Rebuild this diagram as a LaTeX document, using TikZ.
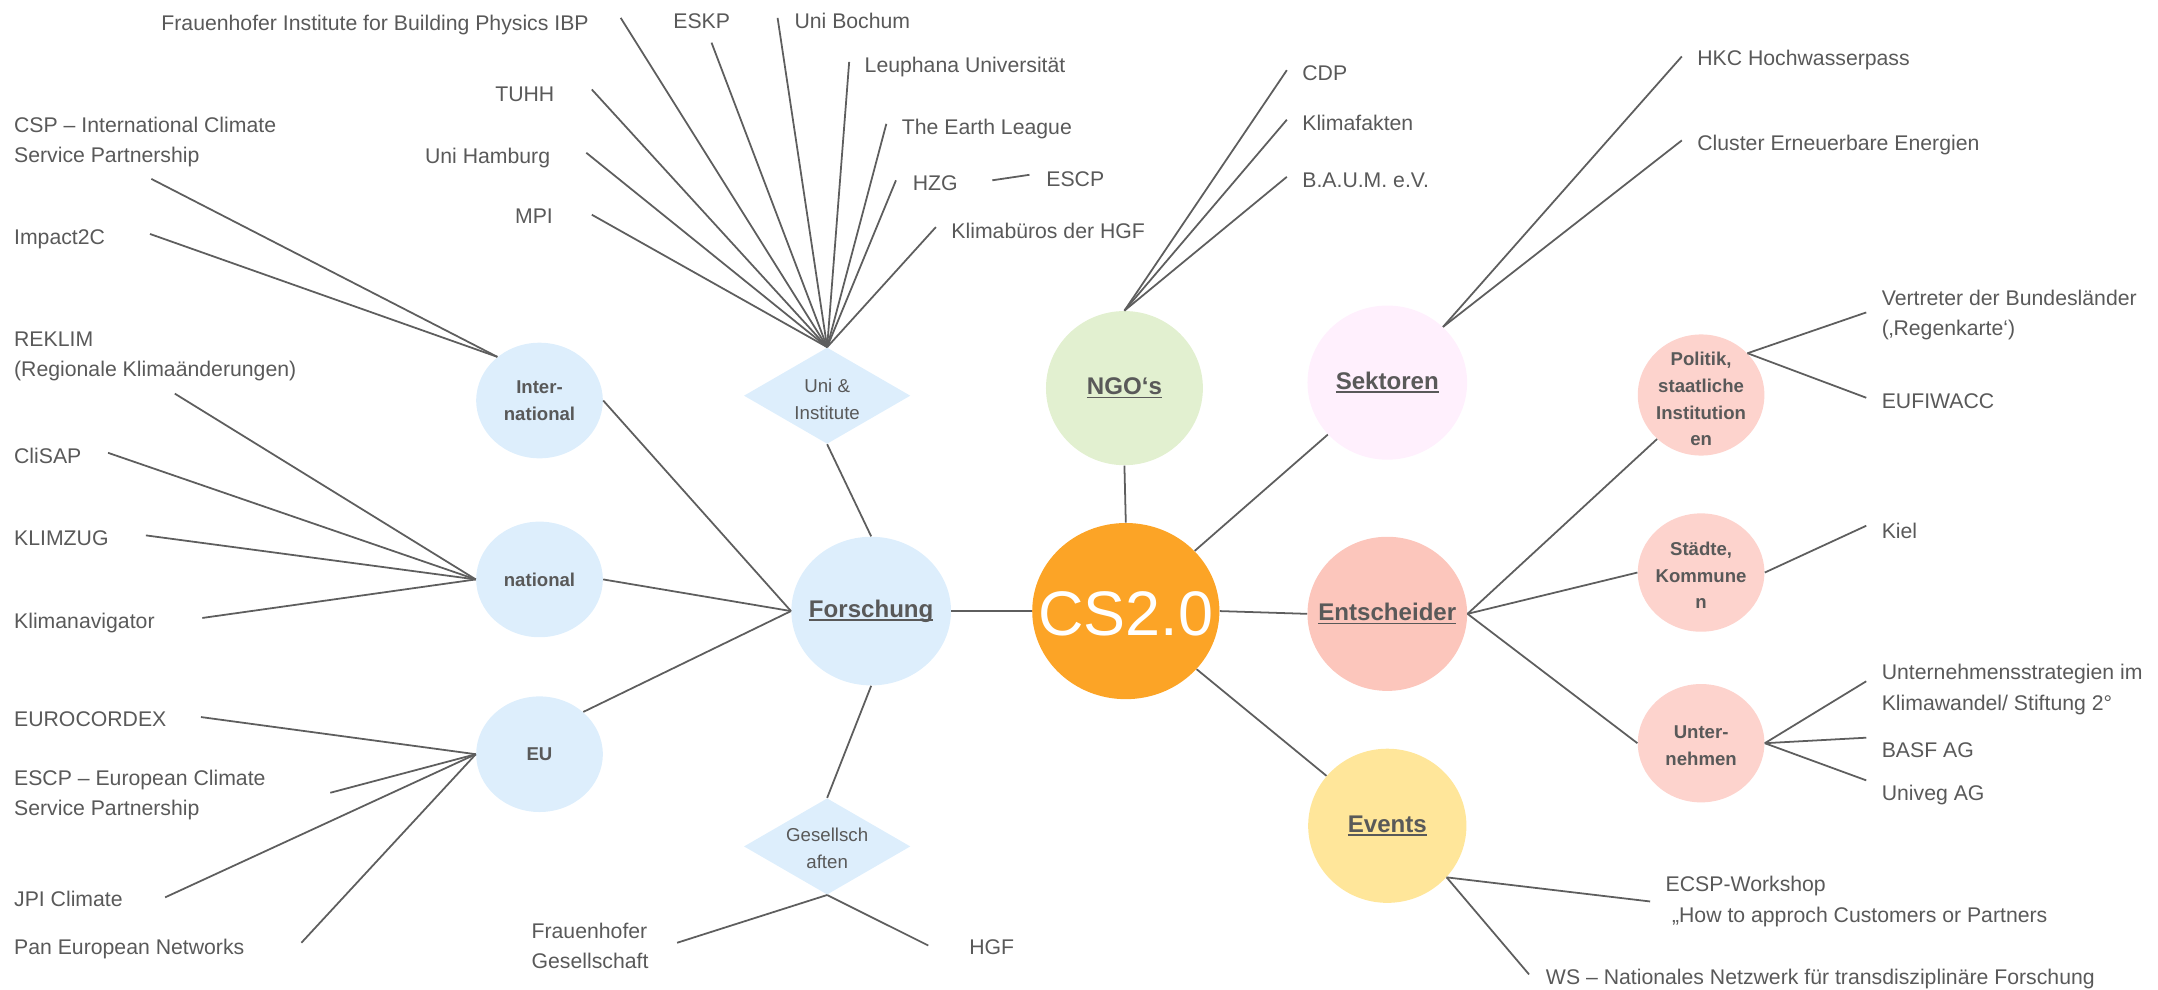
\documentclass[tikz,border=0pt]{standalone}
\usepackage{fontspec}
\setmainfont{Liberation Sans}
\usetikzlibrary{shapes.geometric}
\definecolor{ink}{HTML}{595959}
\definecolor{lineg}{HTML}{5E5E5E}
\definecolor{bluef}{HTML}{DDEEFC}
\definecolor{greenf}{HTML}{E2F0D0}
\definecolor{pinkf}{HTML}{FFF0FD}
\definecolor{salmonf}{HTML}{FCC6BC}
\definecolor{salmonl}{HTML}{FDD3CD}
\definecolor{yellowf}{HTML}{FFE69A}
\definecolor{orangef}{HTML}{FCA426}
\newcommand\myul[1]{\setbox0\hbox{#1}\rlap{\rule[-1.8pt]{\wd0}{0.9pt}}\box0}
\tikzset{
  lab/.style={text=ink, inner sep=0pt, text height=7.7pt, text depth=0pt, font=\fontsize{10.8}{15.4}\selectfont},
  labtwo/.style={text=ink, inner sep=0pt, align=left, font=\fontsize{10.8}{15.4}\selectfont},
  bub/.style={ellipse, inner sep=0pt, draw=none},
  diam/.style={diamond, inner sep=0pt, draw=none, fill=bluef, minimum width=84.7pt, minimum height=49pt},
  bigtxt/.style={text=ink, inner sep=0pt, font=\fontsize{12.25}{15}\selectfont\bfseries},
  smtxt/.style={text=ink, inner sep=0pt, align=center, font=\fontsize{9.45}{13.6}\selectfont\bfseries},
  dtxt/.style={text=ink, inner sep=0pt, align=center, font=\fontsize{9.5}{14}\selectfont},
  conn/.style={draw=lineg, line width=0.9pt}
}
\begin{document}
\begin{tikzpicture}[x=0.7pt,y=-0.7pt]
\useasboundingbox (0,0) rectangle (1568,719);

% main bubbles
\node[bub, fill=orangef, minimum width=95.2pt, minimum height=89.6pt] (cs) at (818,444) {};
\node[text=white, inner sep=0pt, font=\fontsize{32}{36}\selectfont] (cst) at (818,446) {CS2.0};
\node[bub, fill=bluef, minimum width=81.2pt, minimum height=75.6pt] (forsch) at (633,444) {};
\node[bigtxt] (forscht) at (633,444) {\myul{Forschung}};
\node[bub, fill=greenf, minimum width=79.8pt, minimum height=78.4pt] (ngo) at (817,282) {};
\node[bigtxt] (ngot) at (817,282) {\myul{NGO‘s}};
\node[bub, fill=pinkf, minimum width=81.2pt, minimum height=78.4pt] (sekt) at (1008,278) {};
\node[bigtxt] (sektt) at (1008,278) {\myul{Sektoren}};
\node[bub, fill=salmonf, minimum width=81.2pt, minimum height=78.4pt] (ents) at (1008,446) {};
\node[bigtxt] (entst) at (1008,446) {\myul{Entscheider}};
\node[bub, fill=yellowf, minimum width=80.5pt, minimum height=78.4pt] (events) at (1008,600) {};
\node[bigtxt] (eventst) at (1008,600) {\myul{Events}};

% research sub bubbles
\node[bub, fill=bluef, minimum width=64.4pt, minimum height=58.8pt] (intl) at (392,291) {};
\node[smtxt] (intlt) at (392,291) {Inter-\\national};
\node[bub, fill=bluef, minimum width=64.4pt, minimum height=58.8pt] (natl) at (392,421) {};
\node[smtxt] (natlt) at (392,421) {national};
\node[bub, fill=bluef, minimum width=64.4pt, minimum height=58.8pt] (eu) at (392,548) {};
\node[smtxt] (eut) at (392,548) {EU};
\node[diam] (uni) at (601,287.5) {};
\node[dtxt] (unit) at (601,290) {Uni \&\\Institute};
\node[diam] (ges) at (601,615) {};
\node[dtxt] (gest) at (601,616.5) {Gesellsch\\aften};

% decision makers sub bubbles
\node[bub, fill=salmonl, minimum width=64.4pt, minimum height=61.6pt] (pol) at (1236,287) {};
\node[smtxt] (polt) at (1236,290) {Politik,\\staatliche\\Institution\\en};
\node[bub, fill=salmonl, minimum width=64.4pt, minimum height=60.2pt] (staedte) at (1236,416) {};
\node[smtxt] (staedtet) at (1236,418) {Städte,\\Kommune\\n};
\node[bub, fill=salmonl, minimum width=64.4pt, minimum height=60.2pt] (untern) at (1236,540) {};
\node[smtxt] (essent) at (1236,542) {Unter-\\nehmen};

% labels
\node[labtwo, anchor=west] (csp) at (10,103) {CSP – International Climate\\Service Partnership};
\node[lab, anchor=west] (imp) at (10,172) {Impact2C};
\node[labtwo, anchor=west] (rek) at (10,259) {REKLIM\\(Regionale Klimaänderungen)};
\node[lab, anchor=west] (cli) at (10,331) {CliSAP};
\node[lab, anchor=west] (kz) at (10,391) {KLIMZUG};
\node[lab, anchor=west] (kn) at (10,451) {Klimanavigator};
\node[lab, anchor=west] (eurc) at (10,522) {EUROCORDEX};
\node[labtwo, anchor=west] (escpe) at (10,577.5) {ESCP – European Climate\\Service Partnership};
\node[lab, anchor=west] (jpi) at (10,653) {JPI Climate};
\node[lab, anchor=west] (pan) at (10,688) {Pan European Networks};

\node[lab, anchor=east] (ibp) at (428,17) {Frauenhofer Institute for Building Physics IBP};
\node[lab, anchor=east] (tuhh) at (403,68) {TUHH};
\node[lab, anchor=east] (uhh) at (400,113) {Uni Hamburg};
\node[lab, anchor=east] (mpi) at (402,157) {MPI};
\node[lab, anchor=west] (eskp) at (489,15) {ESKP};
\node[lab, anchor=west] (boch) at (577,15) {Uni Bochum};
\node[lab, anchor=west] (leu) at (628,47) {Leuphana Universität};
\node[lab, anchor=west] (tel) at (655,92) {The Earth League};
\node[lab, anchor=west] (hzg) at (663,133) {HZG};
\node[lab, anchor=west] (escp) at (760,130) {ESCP};
\node[lab, anchor=west] (kb) at (691,168) {Klimabüros der HGF};

\node[lab, anchor=west] (cdp) at (946,53) {CDP};
\node[lab, anchor=west] (kf) at (946,89) {Klimafakten};
\node[lab, anchor=west] (baum) at (946,131) {B.A.U.M. e.V.};

\node[lab, anchor=west] (hkc) at (1233,42) {HKC Hochwasserpass};
\node[lab, anchor=west] (cee) at (1233,104) {Cluster Erneuerbare Energien};

\node[labtwo, anchor=west] (vdb) at (1367,229) {Vertreter der Bundesländer\\(‚Regenkarte‘)};
\node[lab, anchor=west] (euf) at (1367,291) {EUFIWACC};
\node[lab, anchor=west] (kiel) at (1367,386) {Kiel};
\node[labtwo, anchor=west] (ust) at (1367,501) {Unternehmensstrategien im\\Klimawandel/ Stiftung 2°};
\node[lab, anchor=west] (basf) at (1367,545) {BASF AG};
\node[lab, anchor=west] (univ) at (1367,576) {Univeg AG};

\node[labtwo, anchor=west] (ecsp) at (1210,655) {ECSP-Workshop\\\hspace*{0.3em}„How to approch Customers or Partners};
\node[lab, anchor=west] (ws) at (1123,710) {WS – Nationales Netzwerk für transdisziplinäre Forschung};

\node[labtwo, anchor=west] (fg) at (386,687.5) {Frauenhofer\\Gesellschaft};
\node[lab, anchor=west] (hgf) at (704,688) {HGF};

% free ends of connectors
\coordinate (e-csp) at (110,130);
\coordinate (e-imp) at (109,170);
\coordinate (e-rek) at (127,286);
\coordinate (e-cli) at (78.5,329);
\coordinate (e-kz) at (106,389);
\coordinate (e-kn) at (147,449);
\coordinate (e-eurc) at (146,521);
\coordinate (e-escpe) at (240,576);
\coordinate (e-jpi) at (120,652);
\coordinate (e-pan) at (219,685);
\coordinate (e-ibp) at (451,13);
\coordinate (e-tuhh) at (430,65);
\coordinate (e-uhh) at (426,111);
\coordinate (e-mpi) at (430,156);
\coordinate (e-eskp) at (517,31);
\coordinate (e-boch) at (565,13);
\coordinate (e-leu) at (617,45);
\coordinate (e-tel) at (644,90);
\coordinate (e-hzg) at (651,131);
\coordinate (e-kb) at (680,165);
\coordinate (e-hz1) at (721,131);
\coordinate (e-hz2) at (748,127);
\coordinate (e-cdp) at (935,51);
\coordinate (e-kf) at (935,87);
\coordinate (e-baum) at (935,128.5);
\coordinate (e-hkc) at (1222,41);
\coordinate (e-cee) at (1222,102);
\coordinate (e-vdb) at (1356,227);
\coordinate (e-euf) at (1356,289);
\coordinate (e-kiel) at (1356,382);
\coordinate (e-ust) at (1356,495);
\coordinate (e-basf) at (1356,536);
\coordinate (e-univ) at (1356,567);
\coordinate (e-ecsp) at (1199,655);
\coordinate (e-ws) at (1111,708);
\coordinate (e-fg) at (492,685);
\coordinate (e-hgf) at (674.5,687);

% hub connectors
\draw[conn] (forsch.east) -- (cs.west);
\draw[conn] (cs.east) -- (ents.west);
\draw[conn] (ngo.south) -- (cs.north);
\draw[conn] (cs) -- (sekt);
\draw[conn] (cs) -- (events);
\draw[conn] (uni.south) -- (forsch.north);
\draw[conn] (forsch.south) -- (ges.north);
\draw[conn] (forsch.west) -- (intl.east);
\draw[conn] (forsch.west) -- (natl.east);
\draw[conn] (forsch.west) -- (eu.44);
\draw[conn] (ents.east) -- (pol.225);
\draw[conn] (ents.east) -- (staedte.west);
\draw[conn] (ents.east) -- (untern.west);

% leaf connectors
\foreach \e in {csp,imp} \draw[conn] (e-\e) -- (intl.134);
\foreach \e in {rek,cli,kz,kn} \draw[conn] (e-\e) -- (natl.west);
\foreach \e in {eurc,escpe,jpi,pan} \draw[conn] (e-\e) -- (eu.west);
\foreach \e in {ibp,tuhh,uhh,mpi,eskp,boch,leu,tel,hzg,kb} \draw[conn] (e-\e) -- (uni.north);
\draw[conn] (e-hz1) -- (e-hz2);
\foreach \e in {cdp,kf,baum} \draw[conn] (e-\e) -- (ngo.north);
\foreach \e in {hkc,cee} \draw[conn] (e-\e) -- (sekt.45);
\foreach \e in {vdb,euf} \draw[conn] (e-\e) -- (pol.42);
\draw[conn] (staedte.east) -- (e-kiel);
\foreach \e in {ust,basf,univ} \draw[conn] (e-\e) -- (untern.east);
\foreach \e in {ecsp,ws} \draw[conn] (e-\e) -- (events.-41);
\foreach \e in {fg,hgf} \draw[conn] (e-\e) -- (ges.south);
\end{tikzpicture}
\end{document}
